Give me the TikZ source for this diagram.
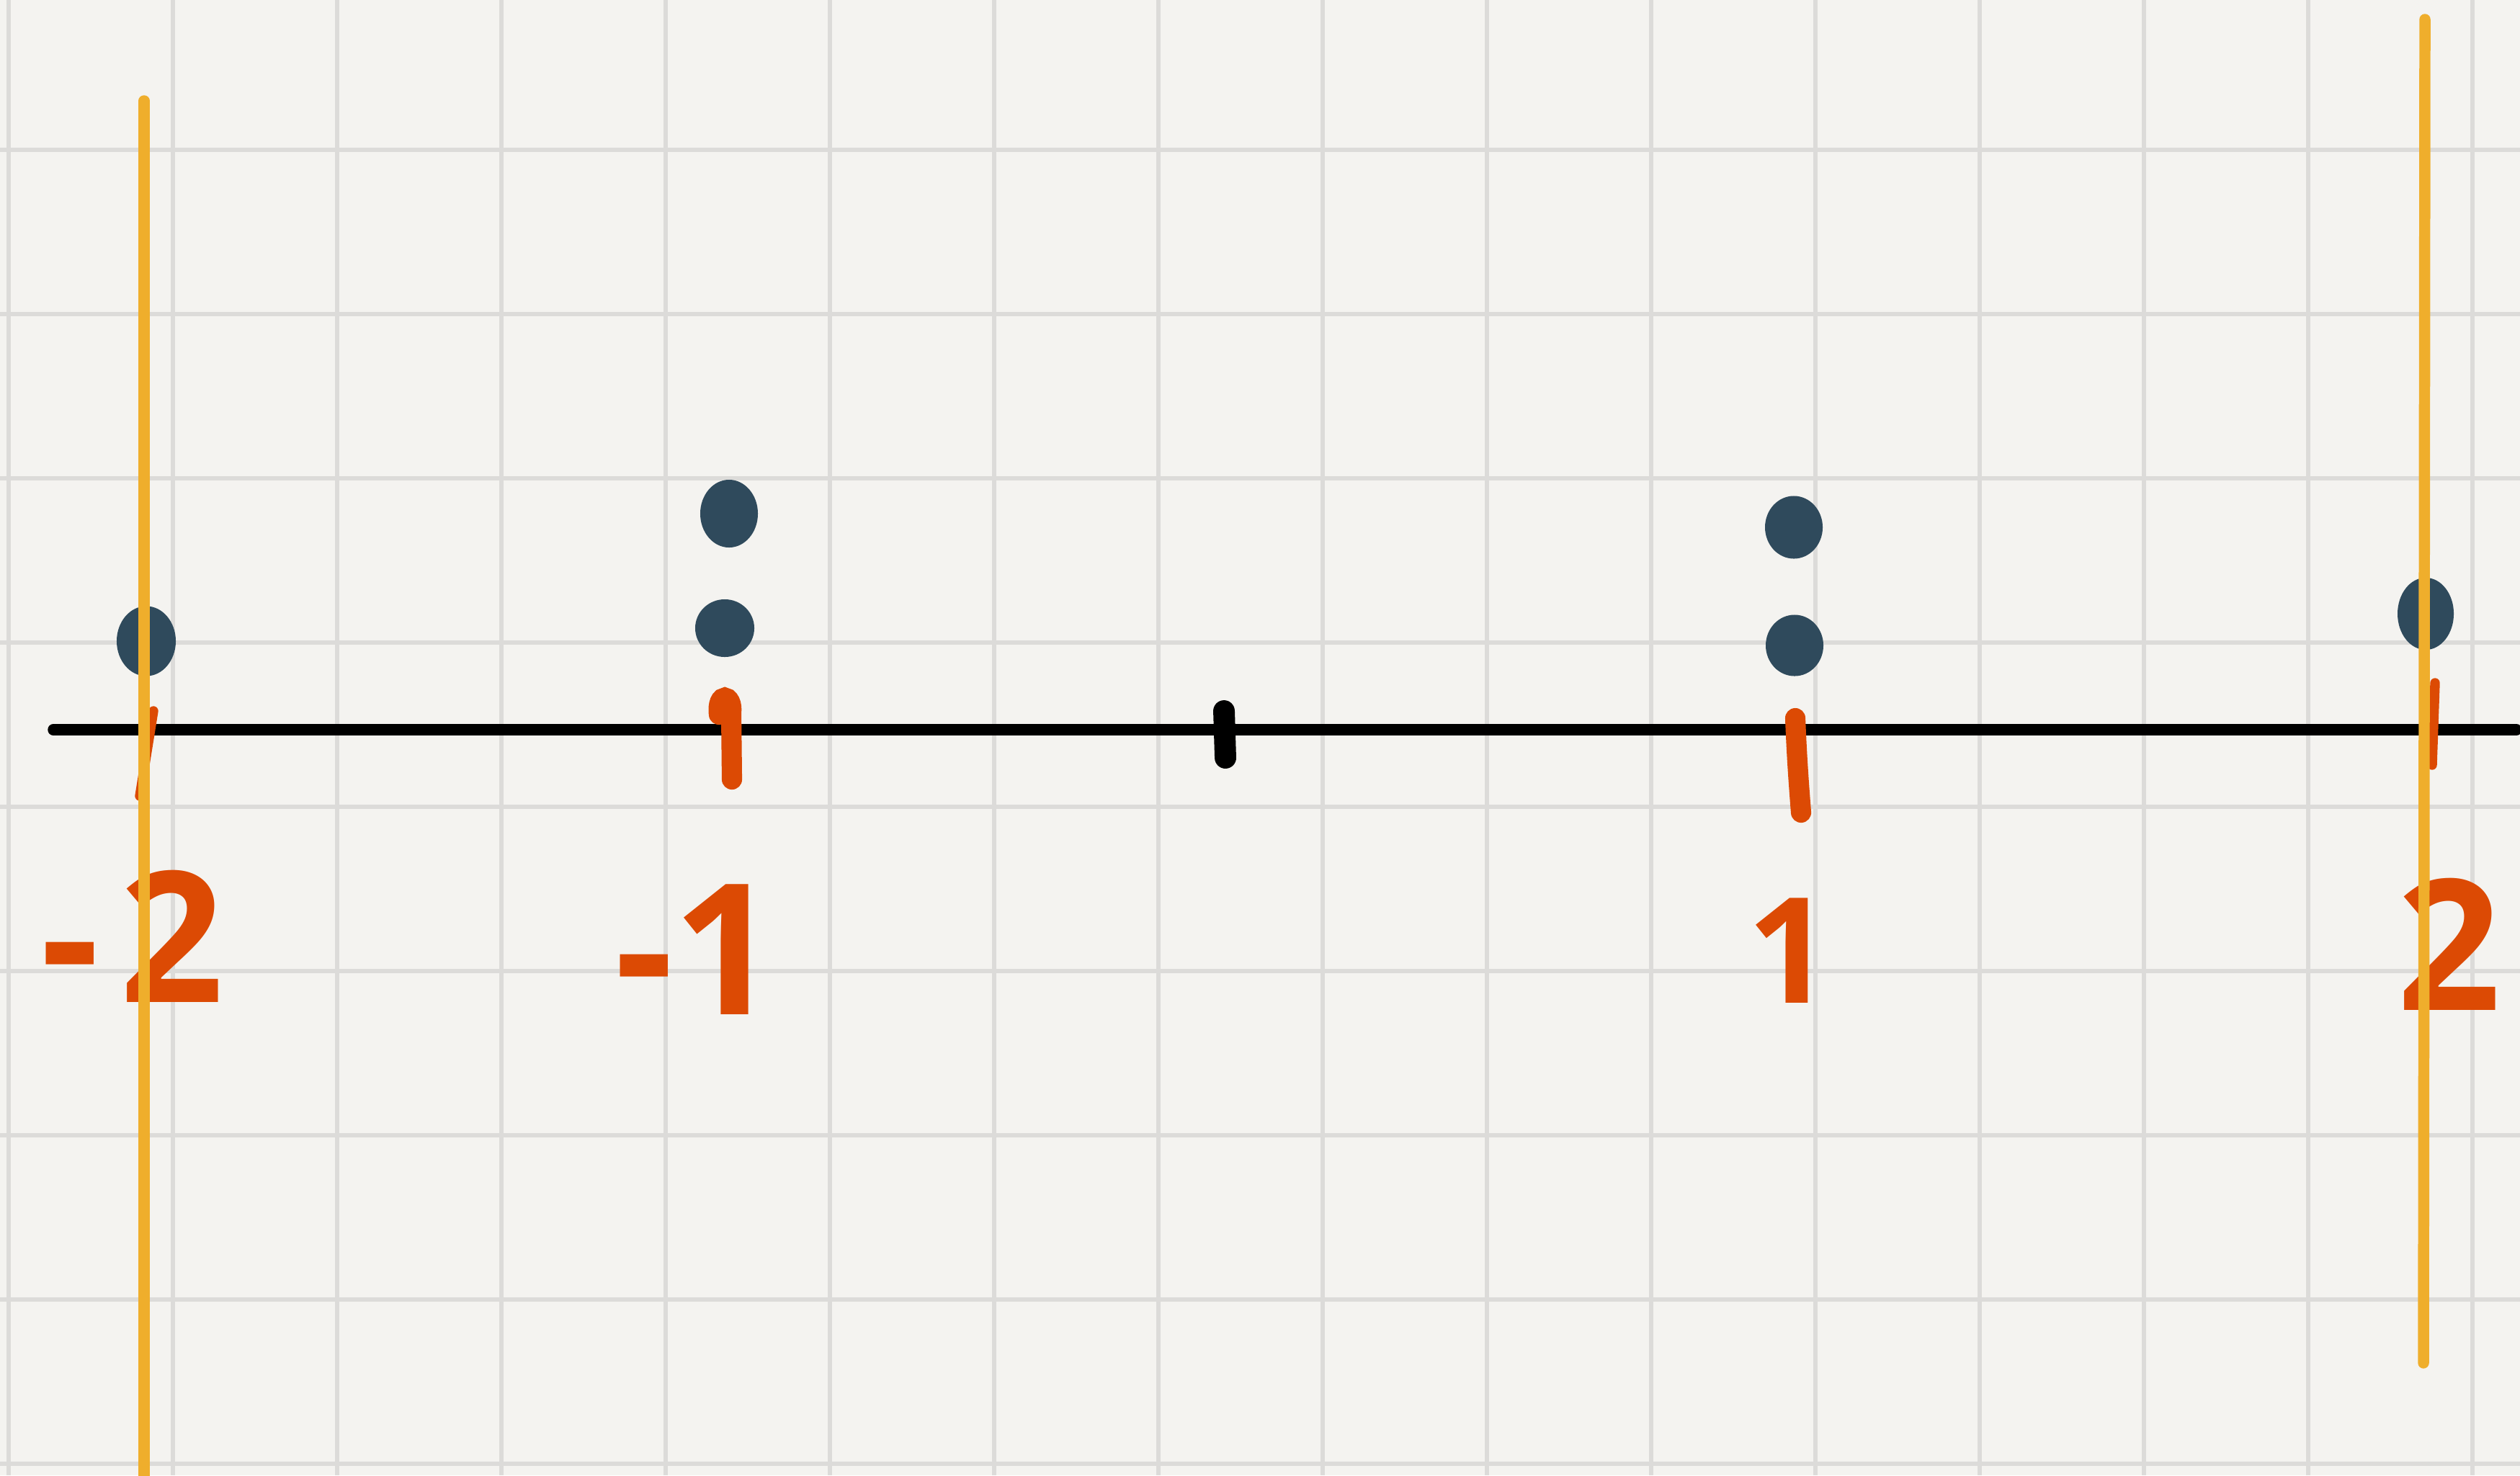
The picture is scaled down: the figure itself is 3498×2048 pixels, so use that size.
\documentclass[tikz,border=0pt]{standalone}
\usepackage{fontspec}
\setmainfont{Open Sans}
\usepackage{xcolor}
\usepackage{tikz}
\usetikzlibrary{shapes.geometric}

\definecolor{paper}{HTML}{F4F3F0}
\definecolor{gridgray}{HTML}{DCDBD9}
\definecolor{slate}{HTML}{2F4A5C}
\definecolor{rust}{HTML}{DC4A04}
\definecolor{amber}{HTML}{EFAE2C}

\begin{document}
\begin{tikzpicture}[
    x=0.01cm, y=-0.01cm,
    gridline/.style={gridgray, line width=1.8pt},
    axisline/.style={black, line width=4.4pt, line cap=round},
    tickmark/.style={rust, line width=8pt, line cap=round},
    thintick/.style={rust, line width=3.8pt, line cap=round},
    dot/.style={ellipse, fill=slate, inner sep=0pt, minimum width=0.8cm, minimum height=0.9cm},
    numlabel/.style={text=rust, font=\fontsize{72}{72}\selectfont\bfseries, inner sep=0pt},
    bound/.style={amber, line width=4.4pt, line cap=round}
]
\useasboundingbox (0,0) rectangle (3498,2048);
\fill[paper] (0,0) rectangle (3498,2048);

\foreach \gx in {12,240,...,3432}
    \draw[gridline] (\gx,0) -- (\gx,2048);
\foreach \gy in {208,436,...,2032}
    \draw[gridline] (0,\gy) -- (3498,\gy);

\draw[axisline] (74,1013) -- (3493,1013);

\draw[thintick] (213,987) -- (194,1105);
\draw[tickmark] (998,992) .. controls (994,960) and (1018,962) .. (1015,990) -- (1016,1082);
\draw[black, line width=8.5pt, line cap=round] (1699,987) -- (1701,1052);
\draw[tickmark] (2492,997) .. controls (2494,1050) and (2497,1090) .. (2500,1128);
\draw[thintick] (3380,948) -- (3376,1062);

\node[dot, minimum width=0.82cm, minimum height=0.97cm] (dotmtwo) at (203,890) {};
\node[dot, minimum height=0.94cm] (dotmoneup) at (1012,713) {};
\node[dot, minimum width=0.82cm, minimum height=0.8cm] (dotmonelow) at (1006,872) {};
\node[dot, minimum width=0.8cm, minimum height=0.87cm] (dotoneup) at (2490,732) {};
\node[dot, minimum width=0.8cm, minimum height=0.85cm] (dotonelow) at (2491,896) {};
\node[dot, minimum width=0.78cm, minimum height=1.0cm] (dottwo) at (3367,852) {};

\node[numlabel] (lblmtwo) at (184,1300) {-\kern8pt 2};
\node[numlabel] (lblmone) at (966,1318) {-1};
\node[numlabel, font=\fontsize{58}{58}\selectfont\bfseries] (lblone) at (2484,1320) {1};
\node[numlabel] (lbltwo) at (3400,1311) {2};

\draw[bound] (200,140) -- (200,2070);
\draw[bound] (3366,27) -- (3364,1892);
\end{tikzpicture}
\end{document}
